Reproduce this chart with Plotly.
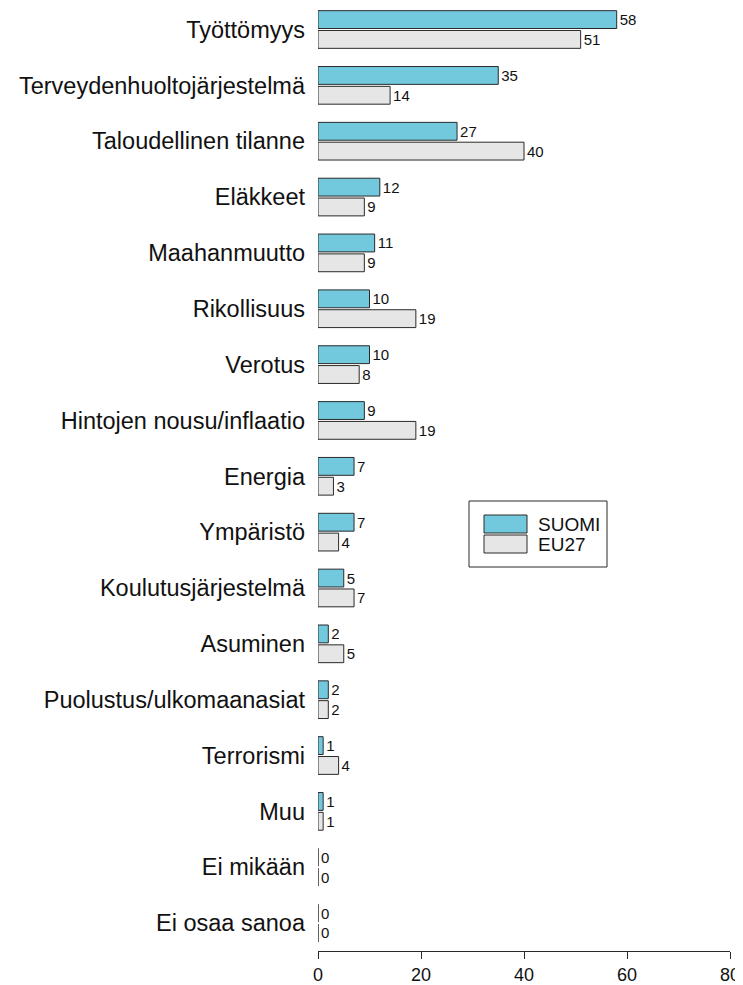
import plotly.graph_objects as go

categories = ['Työttömyys', 'Terveydenhuoltojärjestelmä', 'Taloudellinen tilanne', 'Eläkkeet',
              'Maahanmuutto', 'Rikollisuus', 'Verotus', 'Hintojen nousu/inflaatio', 'Energia',
              'Ympäristö', 'Koulutusjärjestelmä', 'Asuminen', 'Puolustus/ulkomaanasiat',
              'Terrorismi', 'Muu', 'Ei mikään', 'Ei osaa sanoa']
suomi = [58, 35, 27, 12, 11, 10, 10, 9, 7, 7, 5, 2, 2, 1, 1, 0, 0]
eu27 = [51, 14, 40, 9, 9, 19, 8, 19, 3, 4, 7, 5, 2, 4, 1, 0, 0]
series_names = ['SUOMI', 'EU27']
x_ticks = [0, 20, 40, 60, 80]

FONT = 'Liberation Sans, Arial, sans-serif'
COLORS = ['#72C9DD', '#E6E6E6']
EDGE = '#2a2a2a'

#Page has an 8px body margin, so the figure is drawn 8px smaller than the window
W, H = 735, 977
L, R, T, B = 310, 13, 0, 34
PW, PH = W - L - R, H - T - B

def px_x(p): return (p - L) / PW
def px_y(p): return (H - B - p) / PH

fig = go.Figure()
for name, vals, col in zip(series_names, [suomi, eu27], COLORS):
  fig.add_trace(go.Bar(y=categories, x=vals, name=name, orientation='h',
                       marker=dict(color=col, line=dict(color=EDGE, width=1)),
                       text=vals, textposition='outside', cliponaxis=False,
                       textfont=dict(size=15, color='#111111'), showlegend=False))

#Legend drawn by hand so the swatches are wide boxes like the original
shapes = [dict(type='rect', xref='paper', yref='paper', x0=px_x(461), x1=px_x(599),
               y0=px_y(559), y1=px_y(493), line=dict(color=EDGE, width=1), fillcolor='white')]
annotations = []
for i, (name, col) in enumerate(zip(series_names, COLORS)):
  top = 507 + i * 20
  shapes.append(dict(type='rect', xref='paper', yref='paper', x0=px_x(476), x1=px_x(519),
                     y0=px_y(top + 18), y1=px_y(top), line=dict(color=EDGE, width=1), fillcolor=col))
  annotations.append(dict(text=name, xref='paper', yref='paper', x=px_x(528), y=px_y(top + 9.5),
                          xanchor='left', yanchor='middle', showarrow=False,
                          font=dict(size=19, color='#111111')))

fig.update_layout(
  width=W, height=H,
  margin=dict(l=L, r=R, t=T, b=B),
  plot_bgcolor='white', paper_bgcolor='white',
  font=dict(family=FONT, color='#111111'),
  barmode='group', bargap=0.29, bargroupgap=0.1,
  shapes=shapes, annotations=annotations,
)
fig.update_xaxes(range=[0, 80], tickvals=x_ticks, showgrid=False, zeroline=False,
                 showline=True, linecolor=EDGE, linewidth=1,
                 ticks='outside', ticklen=7, tickcolor=EDGE,
                 tickfont=dict(size=18))
fig.update_yaxes(categoryorder='array', categoryarray=categories, range=[16.50, -0.385],
                 showgrid=False, zeroline=False, showline=False, ticks='',
                 ticklabelstandoff=12, tickfont=dict(size=23.5))

fig.write_html('out.html')
